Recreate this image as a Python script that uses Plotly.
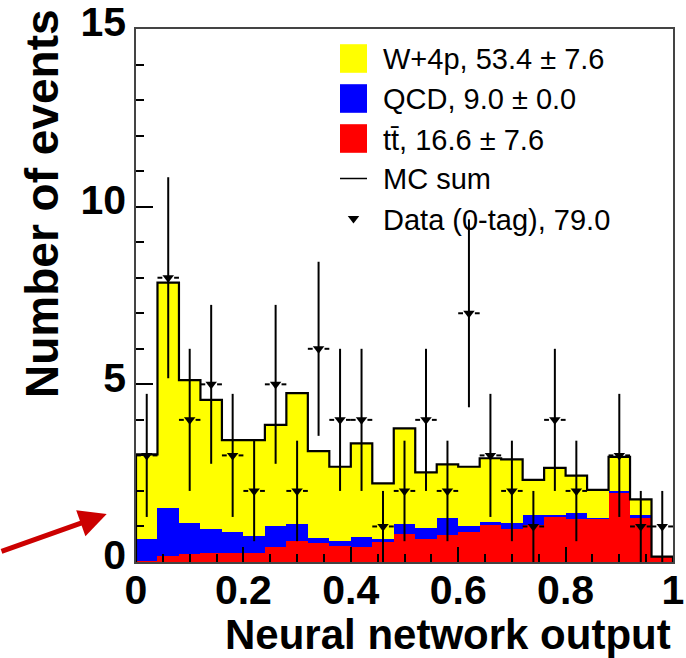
import numpy as np
import plotly.graph_objects as go

# ---------------- data ----------------
n_bins = 25
x_min, x_max = 0.0, 1.0
bin_edges = np.linspace(x_min, x_max, n_bins + 1)
bin_centers = 0.5 * (bin_edges[:-1] + bin_edges[1:])
bin_width = bin_edges[1] - bin_edges[0]

ttbar = [0.03, 0.17, 0.22, 0.24, 0.24, 0.26, 0.43, 0.59, 0.53, 0.46, 0.43, 0.57, 0.79,
         0.65, 0.76, 0.85, 1.04, 0.92, 1.05, 1.27, 1.20, 1.22, 1.93, 1.25, 0.15]
qcd = [0.61, 1.36, 0.87, 0.69, 0.61, 0.48, 0.59, 0.48, 0.15, 0.14, 0.28, 0.07, 0.29,
       0.30, 0.47, 0.17, 0.09, 0.17, 0.27, 0.05, 0.19, 0.02, 0.08, 0.08, 0.00]
wjets = [2.39, 6.33, 4.03, 3.63, 2.58, 2.69, 2.84, 3.68, 2.44, 2.08, 2.63, 1.57, 2.68,
         1.57, 1.52, 1.66, 1.79, 1.80, 0.99, 1.33, 1.04, 0.79, 0.95, 0.43, 0.00]
data_counts = [3, 8, 4, 5, 3, 2, 5, 2, 6, 4, 4, 1, 2, 4, 2, 7, 3, 2, 1, 4, 2, 0, 3, 1, 1]

legend_labels = ["W+4p, 53.4 \u00b1 7.6", "QCD, 9.0 \u00b1 0.0", "tt\u0304, 16.6 \u00b1 7.6",
                 "MC sum", "Data (0-tag), 79.0"]
x_tickvals = [0, 0.2, 0.4, 0.6, 0.8, 1.0]
x_ticktext = ["0", "0.2", "0.4", "0.6", "0.8", "1"]
y_tickvals = [0, 5, 10, 15]
y_ticktext = ["0", "5", "10", "15"]
x_title = "Neural network output"
y_title = "Number of events"

# ---------------- style ----------------
W_, H_ = 686, 658
L, R, T, B = 136, 673, 29, 562
FONT = "Liberation Sans"
C_W, C_QCD, C_TT = "#ffff00", "#0000ff", "#ff0000"


def px(xp):
    return (xp - L) / (R - L)


def py(yp):
    return (B - yp) / (B - T)


mc_sum = (np.array(ttbar) + np.array(qcd) + np.array(wjets)).tolist()

fig = go.Figure()
for vals, col in [(ttbar, C_TT), (qcd, C_QCD), (wjets, C_W)]:
    fig.add_trace(go.Bar(x=bin_centers, y=vals, width=bin_width, marker_color=col,
                         marker_line_width=0, showlegend=False, hoverinfo="skip"))

# MC sum outline
xs = [bin_edges[0]] + list(bin_edges[:-1]) + [bin_edges[-1], bin_edges[-1]]
ys = [0] + mc_sum + [mc_sum[-1], 0]
fig.add_trace(go.Scatter(x=xs, y=ys, mode="lines", line=dict(color="black", width=2.2, shape="hv"),
                         showlegend=False, hoverinfo="skip"))

# data points
dc = np.array(data_counts, dtype=float)
mask = dc > 0
cx = bin_centers[mask]
cy = dc[mask]
gap = 0.011
hx, hy = [], []
for c, v in zip(cx, cy):
    hx += [c - bin_width / 2, c - gap, None, c + gap, c + bin_width / 2, None]
    hy += [v, v, None, v, v, None]
fig.add_trace(go.Scatter(x=hx, y=hy, mode="lines", line=dict(color="black", width=2),
                         showlegend=False, hoverinfo="skip"))
fig.add_trace(go.Scatter(x=cx, y=cy, mode="markers",
                         marker=dict(symbol="triangle-down", size=10, color="black"),
                         error_y=dict(type="data", array=np.sqrt(cy), color="black",
                                      thickness=2, width=0),
                         showlegend=False))

shapes = []
annotations = []
# legend
row_y = [58.5, 98.5, 138.5, 178.5, 218.5]
box_x0, box_x1 = 340, 367
for i, col in enumerate([C_W, C_QCD, C_TT]):
    shapes.append(dict(type="rect", xref="paper", yref="paper",
                       x0=px(box_x0), x1=px(box_x1), y0=py(row_y[i] + 14.3), y1=py(row_y[i] - 14.3),
                       fillcolor=col, line=dict(width=0)))
shapes.append(dict(type="line", xref="paper", yref="paper", x0=px(box_x0), x1=px(box_x1),
                   y0=py(row_y[3]), y1=py(row_y[3]), line=dict(color="black", width=1.5)))
fig.add_trace(go.Scatter(x=[px(353.5)], y=[py(row_y[4])], xaxis="x2", yaxis="y2", mode="markers",
                         marker=dict(symbol="triangle-down", size=10, color="black"),
                         showlegend=False, hoverinfo="skip"))
for i, lab in enumerate(legend_labels):
    annotations.append(dict(xref="paper", yref="paper", x=px(381), y=py(row_y[i] + 1),
                            xanchor="left", yanchor="middle", text=lab, showarrow=False,
                            font=dict(family=FONT, size=29, color="black")))

# axis titles
annotations.append(dict(xref="paper", yref="paper", x=1.0, y=py(634), xanchor="right",
                        yanchor="middle", text=x_title, showarrow=False,
                        font=dict(family=FONT, size=42, color="black", weight="bold")))
annotations.append(dict(xref="paper", yref="paper", x=px(42), y=py(204), xanchor="center",
                        yanchor="middle", text=y_title, textangle=-90, showarrow=False,
                        font=dict(family=FONT, size=46, color="black", weight="bold")))
# red arrow
annotations.append(dict(xref="paper", yref="paper", x=px(106.7), y=py(514), ax=-106.7, ay=38,
                        text="", showarrow=True, arrowhead=2, arrowsize=1.1, arrowwidth=5,
                        arrowcolor="#cc0000", standoff=0))

tick_font = dict(family=FONT, size=41, color="black", weight="bold")
fig.update_layout(
    width=W_, height=H_,
    margin=dict(l=L, r=W_ - R, t=T, b=H_ - B, pad=0, autoexpand=False),
    paper_bgcolor="white", plot_bgcolor="white",
    barmode="stack", bargap=0,
    shapes=shapes, annotations=annotations,
    xaxis=dict(range=[x_min, x_max], tickvals=x_tickvals, ticktext=x_ticktext,
               ticks="inside", ticklen=15, tickwidth=1.5, tickcolor="black",
               minor=dict(ticks="inside", dtick=0.05, ticklen=8, tickwidth=1.5, tickcolor="black"),
               showline=True, mirror=True, linecolor="#444", linewidth=1.5,
               showgrid=False, zeroline=False, tickfont=tick_font, ticklabelstandoff=-9,
               ticklabeloverflow="allow", automargin=False),
    yaxis=dict(range=[0, 15], tickvals=y_tickvals, ticktext=y_ticktext,
               ticks="inside", ticklen=17, tickwidth=1.5, tickcolor="black",
               minor=dict(ticks="inside", dtick=1, ticklen=8, tickwidth=1.5, tickcolor="black"),
               showline=True, mirror=True, linecolor="#444", linewidth=1.5,
               showgrid=False, zeroline=False, tickfont=tick_font, ticklabelshift=-7,
               ticklabelstandoff=0, ticklabeloverflow="allow", automargin=False),
    xaxis2=dict(range=[0, 1], domain=[0, 1], visible=False, anchor="y2", overlaying="x",
                automargin=False),
    yaxis2=dict(range=[0, 1], domain=[0, 1], visible=False, anchor="x2", overlaying="y",
                automargin=False),
)

fig.write_html("out.html")
